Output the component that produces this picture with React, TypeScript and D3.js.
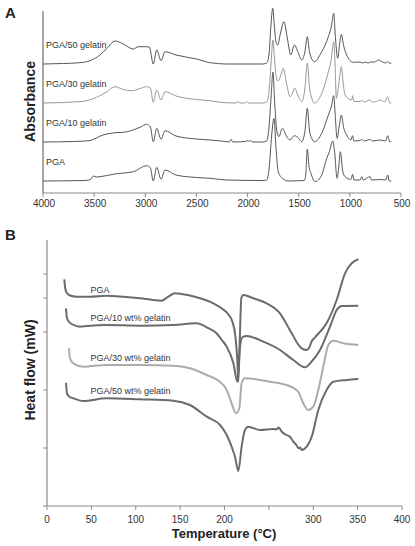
import React from "react";
import * as d3 from "d3";

// ---------- Panel A: FTIR spectra (wavenumber cm-1, absorbance above own baseline) ----------
const ftirTicks = [4000, 3500, 3000, 2500, 2000, 1500, 1000, 500];
const ftirNames = ["PGA/50 gelatin", "PGA/30 gelatin", "PGA/10 gelatin", "PGA"];
const ftirOffsets = [129, 90, 51, 12];
const ftirColors = ["#555", "#999", "#555", "#555"];

const ftirPGA50: [number, number][] = [
  [4000, 0], [3800, 0.5], [3640, 1.3], [3550, 3], [3443, 9], [3374, 15.7], [3296, 23], [3215, 20],
  [3117, 15], [3068, 17.3], [3000, 17.3], [2960, 17], [2922, 0], [2888, 14], [2846, 3.3], [2807, 12.3],
  [2700, 9], [2500, 5], [2367, 1.3], [2200, 0], [1850, 0], [1813, 1], [1790, 10], [1772, 38],
  [1754, 55.7], [1738, 38], [1722, 22], [1705, 19], [1680, 30], [1644, 42.3], [1610, 25], [1578, 9],
  [1543, 19], [1500, 10], [1471, 4], [1440, 12], [1416, 27.3], [1395, 12], [1347, 2.3], [1275, 12.3],
  [1210, 27.3], [1180, 38], [1158, 50.7], [1140, 25], [1119, 5.7], [1100, 20], [1083, 29.7], [1060, 18],
  [1031, 9], [966, 1.7], [900, 2], [880, 1], [850, 2], [820, 1], [800, 2], [760, 2], [721, 4], [680, 2],
  [650, 1], [630, 2.5], [615, 1], [595, 0.7],
];
const ftirPGA30: [number, number][] = [
  [4000, 0], [3640, 1.3], [3475, 5.7], [3380, 11], [3296, 16.3], [3215, 13.5], [3133, 12.3], [3050, 14.5],
  [2986, 16.3], [2950, 15], [2922, 0.7], [2888, 13], [2846, 3], [2807, 11.3], [2700, 7], [2500, 3.5],
  [2367, 2.3], [2250, 0.5], [2115, 0], [2094, 1.2], [2075, 0], [2030, 0], [2009, 1.3], [1990, 0],
  [1850, 0], [1813, 1], [1790, 12], [1770, 40], [1752, 63], [1735, 42], [1718, 25], [1700, 22],
  [1675, 28], [1651, 34.7], [1620, 20], [1585, 6.3], [1560, 10], [1540, 15], [1510, 8], [1471, 1.3],
  [1440, 14], [1416, 39.7], [1395, 16], [1370, 4], [1347, 0], [1275, 9.7], [1210, 31.3], [1180, 45],
  [1158, 61.3], [1145, 40], [1132, 4.7], [1110, 18], [1083, 36.3], [1065, 20], [1047, 8], [982, 3],
  [973, 7.3], [960, 1.5], [900, 1.5], [884, 2.5], [860, 1], [803, 3], [780, 1], [740, 1.5], [705, 3],
  [660, 1], [630, 6.3], [610, 0], [595, 0],
];
const ftirPGA10: [number, number][] = [
  [4000, 0], [3700, 0.5], [3550, 1.3], [3413, 7], [3296, 9.3], [3215, 9.7], [3051, 14.7], [2986, 17.7],
  [2950, 15], [2922, 0.3], [2888, 13.7], [2846, 2.7], [2807, 11.3], [2700, 6], [2500, 3], [2367, 2],
  [2200, 0.3], [2178, 0], [2162, 2.7], [2145, 0], [2020, 0.5], [1995, 1.5], [1985, 0.5], [1970, 1.5],
  [1955, 0], [1850, 0], [1813, 1], [1790, 15], [1770, 45], [1752, 70], [1735, 40], [1715, 12],
  [1694, 5.3], [1660, 13.7], [1620, 6], [1585, 2], [1543, 6.3], [1500, 3.7], [1471, 0.3], [1440, 10],
  [1416, 33.7], [1395, 12], [1370, 3], [1347, 0.3], [1275, 8.7], [1210, 27], [1180, 36], [1158, 46.3],
  [1145, 30], [1125, 3.7], [1105, 15], [1083, 27], [1060, 14], [1031, 7], [990, 2], [973, 6.3],
  [960, 1], [900, 1.5], [884, 2.5], [860, 1], [803, 2.5], [780, 1], [705, 2], [650, 1], [630, 6.3],
  [610, 0.3], [595, 0.3],
];
const ftirPGA: [number, number][] = [
  [4000, 0], [3600, 0.5], [3553, 1], [3530, 2], [3508, 5], [3480, 4], [3443, 4.3], [3300, 7],
  [3117, 9.3], [2986, 15.3], [2950, 13], [2922, 0], [2888, 13.7], [2846, 1.7], [2807, 11], [2700, 6],
  [2500, 3.5], [2367, 2.7], [2200, 1], [1850, 0.5], [1813, 1], [1790, 12], [1765, 45], [1742, 62.7],
  [1720, 30], [1700, 9.3], [1660, 2.7], [1600, 0], [1445, 0.5], [1430, 8], [1416, 32], [1400, 15],
  [1380, 7.7], [1340, -0.7], [1275, 6], [1226, 22.7], [1200, 29.3], [1168, 40], [1150, 30],
  [1125, 2.7], [1110, 12], [1093, 29.3], [1070, 10], [1047, 4.3], [990, 1.5], [973, 6.7], [960, 1],
  [900, 1], [884, 4.3], [870, 1], [803, 4.3], [790, 1], [700, 1.5], [650, 1], [630, 6], [615, 0],
  [595, 0],
];
const ftirSeries = [ftirPGA50, ftirPGA30, ftirPGA10, ftirPGA];

// ---------- Panel B: DSC curves (temperature °C, heat flow arbitrary units) ----------
const dscTicks = [0, 50, 100, 150, 200, 250, 300, 350, 400];
const dscTickLabels = ["0", "50", "100", "150", "200", "", "300", "350", "400"];
const dscYTicks = [0, 58, 116, 174, 208, 232];
const dscNames = ["PGA", "PGA/10 wt% gelatin", "PGA/30 wt% gelatin", "PGA/50 wt% gelatin"];
const dscLabelLevels = [213, 185, 145, 112];
const dscColors = ["#6b6b6b", "#6b6b6b", "#ababab", "#6b6b6b"];

const dscPGA: [number, number][] = [
  [19.5, 226.7], [20.5, 218], [22, 213.5], [26, 210.5], [33.4, 209.3], [48.5, 209.3], [67, 210.3],
  [86, 209.3], [104.8, 207.7], [119.8, 206], [129, 205.3], [136.7, 209.3], [144, 212.7], [151.7, 212],
  [168.7, 208.7], [187.4, 202.7], [197, 197.5], [204, 192], [209, 184], [212.5, 168], [214.5, 145],
  [215.6, 124.3], [217, 160], [219, 208], [221.2, 211], [232.5, 207.7], [247.5, 202.7], [262.5, 192.7],
  [275.7, 172.7], [285, 159.3], [291.8, 156], [295, 157.7], [298, 164.3], [302, 168.7], [315, 182.7],
  [326.4, 206], [335.8, 232.7], [343.3, 242.7], [350.8, 246.7],
];
const dscPGA10: [number, number][] = [
  [21.4, 197.7], [22.5, 188], [25, 184], [29, 181.5], [37.2, 179.3], [45, 180], [67, 181],
  [104.8, 180.3], [142.3, 181], [168.7, 182.7], [180, 178.7], [191, 172.7], [197, 166],
  [202.5, 159.3], [210, 142.7], [214.5, 124.3], [217.5, 159.3], [220, 168.7], [225, 170],
  [243.7, 164.3], [262.5, 156], [277.5, 146], [290.7, 138.7], [298, 144.3], [307.6, 156],
  [318.9, 179.3], [326.4, 196], [332, 200], [350.8, 200.3],
];
const dscPGA30: [number, number][] = [
  [24.8, 157.7], [25.9, 147.7], [29.7, 142.7], [41, 139.3], [67, 141], [104.8, 141], [142.3, 140.3],
  [161, 137.7], [180, 131], [195, 124], [202.5, 116], [208, 102.7], [213, 92.7], [216.7, 97.7],
  [219.3, 122.7], [223, 127.7], [251, 124.3], [270, 121], [283, 114.3], [288.8, 102.7], [294.4, 96],
  [300, 99.3], [305.7, 116], [311.3, 139.3], [317, 161], [322.6, 165.3], [333.9, 162.7], [350.8, 161],
];
const dscPGA50: [number, number][] = [
  [21.4, 123.3], [22.5, 112.7], [25, 109.5], [29.7, 107.7], [41, 105], [67, 107.7], [104.8, 106.7],
  [142.3, 105.3], [161, 101], [180, 89.3], [195, 81], [202.5, 71], [208, 59.3], [211.8, 49.3],
  [215.6, 35], [219.3, 59.3], [223, 76], [226.8, 79.3], [240, 76], [255, 77], [258.8, 76.7],
  [261, 78.5], [264.5, 74.3], [270, 71], [274, 69], [277.5, 64.3], [281, 61], [283.2, 57.7], [285, 58.5],
  [287, 56], [292.6, 59.3], [298.3, 69.3], [305.7, 96], [315, 116], [322.6, 124.3], [337.7, 126],
  [350.8, 127],
];
const dscSeries = [dscPGA, dscPGA10, dscPGA30, dscPGA50];

const FONT = "'Liberation Sans', Arial, Helvetica, sans-serif";

export default function App() {
  // Panel A scales
  const xA = d3.scaleLinear().domain([4000, 500]).range([43, 401]);
  const yA = d3.scaleLinear().domain([0, 185]).range([193, 8]);
  // Panel B scales
  const xB = d3.scaleLinear().domain([0, 400]).range([47, 402]);
  const yB = d3.scaleLinear().domain([0, 266]).range([506, 240]);

  const axisCol = "#8a8a8a";

  return (
    <svg width={415} height={546} style={{ position: "absolute", left: 0, top: 0, background: "#fff" }}
      fontFamily={FONT}>
      {/* ---------- Panel A ---------- */}
      <text x={5} y={18} fontSize={15} fontWeight="bold" fill="#222">A</text>
      <text transform={`translate(35,${(yA.range()[0] + yA.range()[1]) / 2 + 1}) rotate(-90)`}
        textAnchor="middle" fontSize={14} fontWeight="bold" fill="#222">Absorbance</text>
      <line x1={xA(4000)} x2={xA(4000)} y1={yA(182)} y2={yA(0)} stroke={axisCol} strokeWidth={1.5} />
      <line x1={xA(4000)} x2={xA(500)} y1={yA(0)} y2={yA(0)} stroke={axisCol} strokeWidth={1.2} />
      {ftirTicks.map((t) => (
        <g key={t}>
          <line x1={xA(t)} x2={xA(t)} y1={yA(0)} y2={yA(0) + 4} stroke={axisCol} strokeWidth={1} />
          <text x={xA(t) + 1} y={yA(0) + 14} textAnchor="middle" fontSize={10} fill="#333">{t}</text>
        </g>
      ))}
      {ftirSeries.map((s, i) => {
        const line = d3.line<[number, number]>()
          .x((d) => xA(d[0]))
          .y((d) => yA(d[1] + ftirOffsets[i]))
          .curve(d3.curveMonotoneX);
        return <path key={i} d={line(s) || ""} fill="none" stroke={ftirColors[i]} strokeWidth={1} />;
      })}
      {ftirNames.map((n, i) => (
        <text key={n} x={46} y={yA(ftirOffsets[i]) - 16} fontSize={9} fill="#333">{n}</text>
      ))}

      {/* ---------- Panel B ---------- */}
      <text x={5} y={240} fontSize={15} fontWeight="bold" fill="#222">B</text>
      <text transform={`translate(35,370) rotate(-90)`} textAnchor="middle" fontSize={14}
        fontWeight="bold" fill="#222">Heat flow (mW)</text>
      <line x1={xB(0)} x2={xB(0)} y1={yB(266)} y2={yB(0)} stroke={axisCol} strokeWidth={1.2} />
      <line x1={xB(0)} x2={xB(400)} y1={yB(0)} y2={yB(0)} stroke={axisCol} strokeWidth={1.2} />
      {dscYTicks.map((t) => (
        <line key={t} x1={xB(0) - 4} x2={xB(0)} y1={yB(t)} y2={yB(t)} stroke={axisCol} strokeWidth={1} />
      ))}
      {dscTicks.map((t, i) => (
        <g key={t}>
          <line x1={xB(t)} x2={xB(t)} y1={yB(0)} y2={yB(0) + 4} stroke={axisCol} strokeWidth={1} />
          <text x={xB(t)} y={yB(0) + 17} textAnchor="middle" fontSize={10} fill="#333">{dscTickLabels[i]}</text>
        </g>
      ))}
      {dscSeries.map((s, i) => {
        const line = d3.line<[number, number]>()
          .x((d) => xB(d[0]))
          .y((d) => yB(d[1]))
          .curve(d3.curveMonotoneX);
        return <path key={i} d={line(s) || ""} fill="none" stroke={dscColors[i]} strokeWidth={2}
          strokeLinejoin="round" />;
      })}
      {dscNames.map((n, i) => (
        <text key={n} x={xB(49)} y={yB(dscLabelLevels[i])} fontSize={9} fill="#333">{n}</text>
      ))}
      <text x={224} y={538} textAnchor="middle" fontSize={13} fontWeight="bold" fill="#222">
        Temperature (°C)
      </text>
    </svg>
  );
}
